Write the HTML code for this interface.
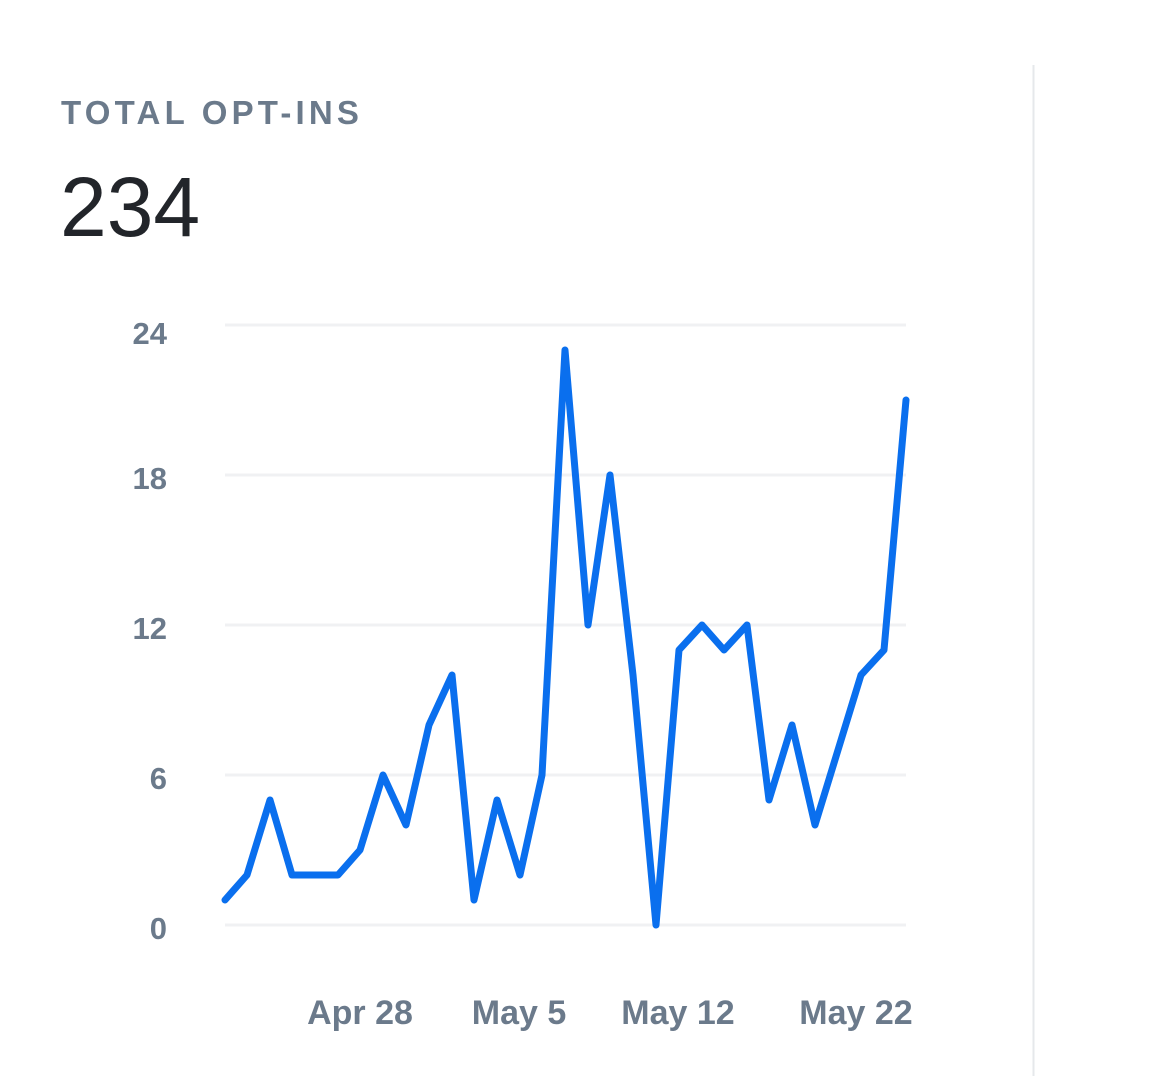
<!DOCTYPE html>
<html><head><style>
html,body{margin:0;padding:0;background:#fff;width:1170px;height:1076px;overflow:hidden}
</style></head><body>
<svg width="1170" height="1076" xmlns="http://www.w3.org/2000/svg" style="position:absolute;left:0;top:0">
<line x1="1033.5" y1="65" x2="1033.5" y2="1076" stroke="#e6e8eb" stroke-width="2"/>
<text x="61" y="124" font-family="Liberation Sans, sans-serif" font-size="33" font-weight="bold" fill="#6b7a8b" letter-spacing="4.2">TOTAL OPT-INS</text>
<text x="60" y="236" font-family="Liberation Sans, sans-serif" font-size="84" fill="#22252a">234</text>
<g stroke="#f0f1f3" stroke-width="3">
<line x1="225" y1="325" x2="906" y2="325"/>
<line x1="225" y1="475" x2="906" y2="475"/>
<line x1="225" y1="625" x2="906" y2="625"/>
<line x1="225" y1="775" x2="906" y2="775"/>
<line x1="225" y1="925" x2="906" y2="925"/>
</g>
<g font-family="Liberation Sans, sans-serif" font-size="31" font-weight="bold" fill="#6b7a8b" text-anchor="end">
<text x="167" y="344">24</text>
<text x="167" y="489">18</text>
<text x="167" y="639">12</text>
<text x="167" y="789">6</text>
<text x="167" y="939">0</text>
</g>
<g font-family="Liberation Sans, sans-serif" font-size="34" font-weight="bold" fill="#6b7a8b" text-anchor="middle">
<text x="360" y="1024">Apr 28</text>
<text x="519" y="1024">May 5</text>
<text x="678" y="1024">May 12</text>
<text x="856" y="1024">May 22</text>
</g>
<polyline fill="none" stroke="#0a6fee" stroke-width="7" stroke-linejoin="round" stroke-linecap="round"
points="225,900 247,875 270,800 292,875 315,875 338,875 360,850 383,775 406,825 429,725 452,675 474,900 497,800 520,875 542,775 565,350 588,625 610,475 633,675 656,925 679,650 702,625 724,650 747,625 769,800 792,725 815,825 838,750 861,675 884,650 906,400"/>
</svg>
</body></html>
